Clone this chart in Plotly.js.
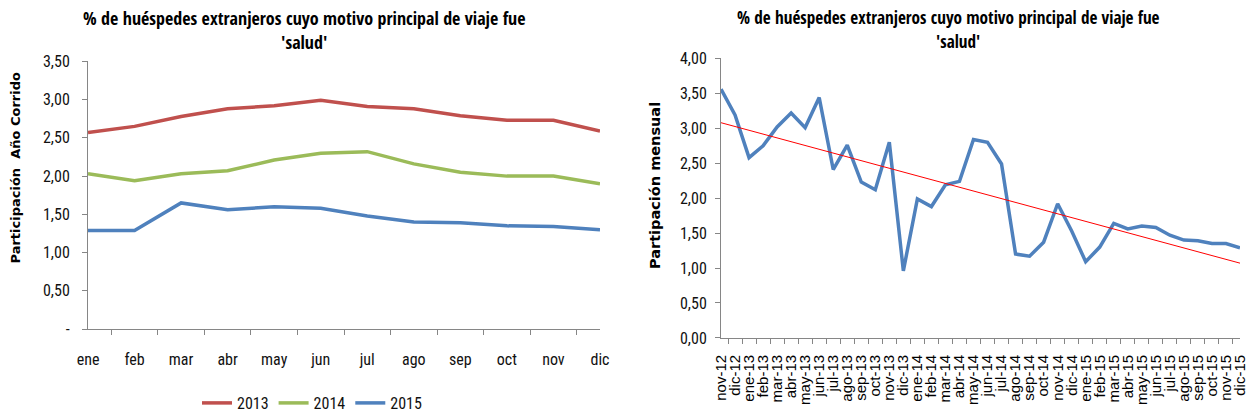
<!DOCTYPE html>
<html><head><meta charset="utf-8">
<script src="https://cdn.plot.ly/plotly-3.0.1.min.js"></script>
<style>html,body{margin:0;padding:0;background:#fff}#chart{width:1249px;height:420px}</style>
</head><body><div id="chart"></div>
<script>
// ---- Left chart data (año corrido) ----
const months = ["ene","feb","mar","abr","may","jun","jul","ago","sep","oct","nov","dic"];
const y2013 = [2.57,2.65,2.78,2.88,2.92,2.99,2.91,2.88,2.79,2.73,2.73,2.59];
const y2014 = [2.03,1.94,2.03,2.07,2.21,2.30,2.32,2.16,2.05,2.00,2.00,1.90];
const y2015 = [1.29,1.29,1.65,1.56,1.60,1.58,1.48,1.40,1.39,1.35,1.34,1.30];
const leftTickVals = [0,0.5,1,1.5,2,2.5,3,3.5];
const leftTickText = ["-","0,50","1,00","1,50","2,00","2,50","3,00","3,50"];

// ---- Right chart data (mensual) ----
const periods = ["nov-12","dic-12",
 "ene-13","feb-13","mar-13","abr-13","may-13","jun-13","jul-13","ago-13","sep-13","oct-13","nov-13","dic-13",
 "ene-14","feb-14","mar-14","abr-14","may-14","jun-14","jul-14","ago-14","sep-14","oct-14","nov-14","dic-14",
 "ene-15","feb-15","mar-15","abr-15","may-15","jun-15","jul-15","ago-15","sep-15","oct-15","nov-15","dic-15"];
const monthly = [3.56,3.19,
 2.58,2.75,3.02,3.22,3.01,3.44,2.41,2.76,2.23,2.12,2.80,0.96,
 1.99,1.88,2.19,2.24,2.84,2.80,2.49,1.20,1.17,1.37,1.92,1.53,
 1.09,1.30,1.64,1.56,1.60,1.58,1.47,1.40,1.39,1.35,1.35,1.29];
const trendX = ["nov-12","dic-15"];
const trendY = [3.08,1.07];
const rightTickVals = [0,0.5,1,1.5,2,2.5,3,3.5,4];
const rightTickText = ["0,00","0,50","1,00","1,50","2,00","2,50","3,00","3,50","4,00"];

const W = 1249, H = 420;
const cond = "'Roboto Condensed', 'Open Sans Condensed', sans-serif";
const condBold = "'Open Sans Condensed', 'Roboto Condensed', sans-serif";
const verd = "'DejaVu Sans', Verdana, sans-serif";

const traces = [
  {x: months, y: y2013, name: "2013", type: "scatter", mode: "lines", line: {color: "#C0504D", width: 3.5}, xaxis: "x", yaxis: "y"},
  {x: months, y: y2014, name: "2014", type: "scatter", mode: "lines", line: {color: "#9BBB59", width: 3.5}, xaxis: "x", yaxis: "y"},
  {x: months, y: y2015, name: "2015", type: "scatter", mode: "lines", line: {color: "#4F81BD", width: 3.5}, xaxis: "x", yaxis: "y"},
  {x: periods, y: monthly, name: "mensual", type: "scatter", mode: "lines", line: {color: "#4F81BD", width: 3.5}, xaxis: "x2", yaxis: "y2", showlegend: false},
  {x: trendX, y: trendY, name: "tendencia", type: "scatter", mode: "lines", line: {color: "#FF0000", width: 1}, xaxis: "x2", yaxis: "y2", showlegend: false}
];

const axisCommon = {
  showgrid: false, zeroline: false, showline: true, linecolor: "#868686", linewidth: 1,
  ticks: "outside", tickcolor: "#868686", ticklen: 5, fixedrange: true
};

function titleAnn(text, xpx, ypx, size) {
  return {text: text, x: xpx/W, y: 1 - ypx/H, xref: "paper", yref: "paper", xanchor: "center", yanchor: "middle",
          showarrow: false, font: {family: condBold, size: size, weight: "bold", color: "#000"}};
}
function yTitleAnn(text, xpx, ypx, size) {
  return {text: text, x: xpx/W, y: 1 - ypx/H, xref: "paper", yref: "paper", xanchor: "center", yanchor: "middle",
          textangle: -90, showarrow: false, font: {family: verd, size: size, weight: "bold", color: "#000"}};
}

const layout = {
  width: W, height: H,
  margin: {l: 0, r: 0, t: 0, b: 0},
  paper_bgcolor: "#ffffff", plot_bgcolor: "#ffffff",
  showlegend: true,
  legend: {orientation: "h", x: 197/W, xanchor: "left", y: 6/H, yanchor: "middle",
           font: {family: cond, size: 16, color: "#111"}, itemwidth: 30, traceorder: "normal"},
  xaxis: Object.assign({}, axisCommon, {
    domain: [88/W, 600/W], anchor: "y", type: "category", tickson: "boundaries",
    tickfont: {family: cond, size: 16, color: "#111"}, ticklabelstandoff: 16
  }),
  yaxis: Object.assign({}, axisCommon, {
    domain: [(H-338)/H, (H-63)/H], anchor: "x", range: [0, 3.5],
    tickvals: leftTickVals, ticktext: leftTickText, ticklen: 5, ticklabelstandoff: 9,
    tickfont: {family: cond, size: 16, color: "#111"}
  }),
  xaxis2: Object.assign({}, axisCommon, {
    domain: [721/W, 1240/W], anchor: "y2", type: "category", tickson: "boundaries", dtick: 1,
    tickangle: -90, ticklabelstandoff: 10,
    tickfont: {family: "'Liberation Sans', Arial, sans-serif", size: 15, color: "#000"}
  }),
  yaxis2: Object.assign({}, axisCommon, {
    domain: [(H-347)/H, (H-60)/H], anchor: "x2", range: [0, 4],
    tickvals: rightTickVals, ticktext: rightTickText, ticklen: 5, ticklabelstandoff: 5,
    tickfont: {family: cond, size: 16, color: "#111"}
  }),
  annotations: [
    titleAnn("% de huéspedes extranjeros cuyo motivo principal de viaje fue", 304, 18, 18),
    titleAnn("'salud'", 304, 43, 18),
    titleAnn("% de huéspedes extranjeros cuyo motivo principal de viaje fue", 948, 18, 17.2),
    titleAnn("'salud'", 958, 43, 17.2),
    yTitleAnn("Participación  Año Corrido", 15, 172, 13),
    yTitleAnn("Partipación mensual", 655, 191, 14.5)
  ]
};

Plotly.newPlot("chart", traces, layout, {staticPlot: true, displayModeBar: false});
</script></body></html>
